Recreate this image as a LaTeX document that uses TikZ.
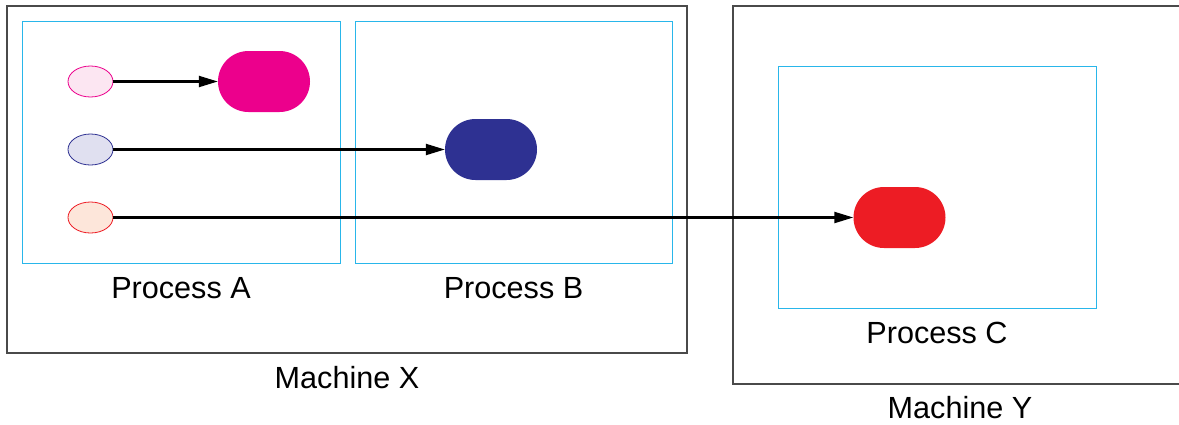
\documentclass[tikz,border=0pt]{standalone}
\usepackage{fontspec}
\setmainfont{Liberation Sans}
\usetikzlibrary{arrows.meta,shapes.misc,shapes.geometric}
\definecolor{procline}{HTML}{29B6EA}
\definecolor{machline}{HTML}{4A4A4A}
\definecolor{magentaobj}{HTML}{EC008C}
\definecolor{magentaref}{HTML}{FCE6F2}
\definecolor{blueobj}{HTML}{2E3192}
\definecolor{blueref}{HTML}{E0E0F0}
\definecolor{redobj}{HTML}{ED1C24}
\definecolor{redref}{HTML}{FDE6DA}
\tikzset{
  machinebox/.style={draw=machline, line width=1.2pt},
  processbox/.style={draw=procline, line width=1pt},
  refdot/.style={ellipse, minimum width=45pt, minimum height=31pt, inner sep=0pt, line width=0.8pt},
  objpill/.style={rounded rectangle, minimum width=92pt, minimum height=61pt, inner sep=0pt, draw=none},
  boxlabel/.style={anchor=base, font=\fontsize{30.6}{36}\selectfont, inner sep=0pt},
  msg/.style={line width=2.2pt, -{Triangle[length=19pt,width=11pt]}}
}
\begin{document}
\begin{tikzpicture}[x=1pt, y=-1pt]
  \useasboundingbox (0,0) rectangle (1179,424);
  \clip (0,0) rectangle (1179,424);

  % machines
  \draw[machinebox] (7,6) rectangle (687,353);
  \draw[machinebox] (1190,6) -- (733,6) -- (733,384) -- (1190,384);

  % processes
  \draw[processbox] (22,21) rectangle (340,263);
  \draw[processbox] (355,21) rectangle (672,263);
  \draw[processbox] (778,66) rectangle (1096,308);

  % labels
  \node[boxlabel] (lblA) at (181,298) {Process A};
  \node[boxlabel] (lblB) at (513.5,298) {Process B};
  \node[boxlabel] (lblC) at (937,343) {Process C};
  \node[boxlabel] (lblX) at (347,388) {Machine X};
  \node[boxlabel] (lblY) at (960,418) {Machine Y};

  % references held in process A
  \node[refdot, draw=magentaobj, fill=magentaref] (r1) at (90.5,81.5) {};
  \node[refdot, draw=blueobj, fill=blueref] (r2) at (90.5,149.5) {};
  \node[refdot, draw=redobj, fill=redref] (r3) at (90.5,217.5) {};

  % objects
  \node[objpill, fill=magentaobj] (o1) at (264,81.5) {};
  \node[objpill, fill=blueobj] (o2) at (491,149.5) {};
  \node[objpill, fill=redobj] (o3) at (899.5,217.5) {};

  % references to objects
  \draw[msg] (r1) -- (o1);
  \draw[msg] (r2) -- (o2);
  \draw[msg] (r3) -- (o3);
\end{tikzpicture}
\end{document}
